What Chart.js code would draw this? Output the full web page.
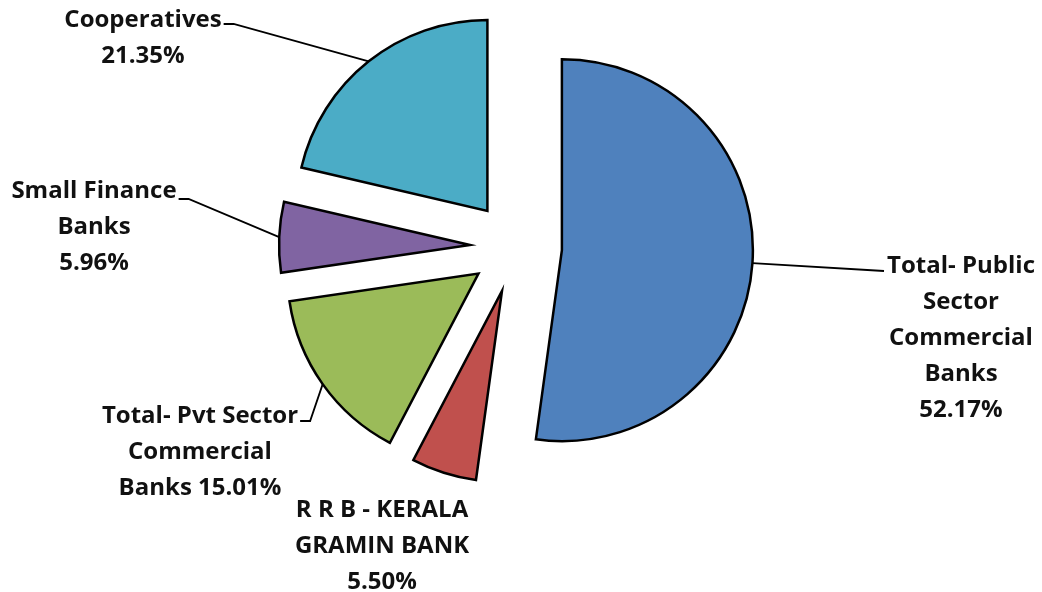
<!DOCTYPE html>
<html>
<head>
<meta charset="utf-8">
<script src="https://cdn.jsdelivr.net/npm/chart.js@4"></script>
<style>
  html, body { margin: 0; padding: 0; background: #fff; }
  #wrap { width: 1042px; height: 592px; position: relative; }
</style>
</head>
<body>
<div id="wrap"><canvas id="c" width="1042" height="592"></canvas></div>
<script>
// ---- data ----
const categories = [
  "Total- Public Sector Commercial Banks",
  "R R B - KERALA GRAMIN BANK",
  "Total- Pvt Sector Commercial Banks",
  "Small Finance Banks",
  "Cooperatives"
];
const shares = [52.17, 5.50, 15.01, 5.96, 21.35];
const labelLines = [
  ["Total- Public", "Sector", "Commercial", "Banks", "52.17%"],
  ["R R B - KERALA", "GRAMIN BANK", "5.50%"],
  ["Total- Pvt Sector", "Commercial", "Banks 15.01%"],
  ["Small Finance", "Banks", "5.96%"],
  ["Cooperatives", "21.35%"]
];
const colors = ["#4F81BD", "#C0504D", "#9BBB59", "#8064A2", "#4BACC6"];

// ---- layout (label placement, not data) ----
const EXPLODE = 46;
const PIE_RADIUS = 191;
const LINE_H = 36;
const FONT = "bold 24px 'Open Sans', 'Liberation Sans', sans-serif";
const labelPos = [
  { cx: 961, y: 273, leader: "toText", end: [884, 271] },
  { cx: 382, y: 517, leader: "none" },
  { cx: 200, y: 423, leader: "elbow", elbowY: 421, dx: 10 },
  { cx: 94,  y: 198, leader: "elbow", elbowY: 199, dx: 10 },
  { cx: 143, y: 27,  leader: "elbow", elbowY: 24, dx: 10 }
];

const explodePlugin = {
  id: "explode",
  afterUpdate(chart) {
    const meta = chart.getDatasetMeta(0);
    meta.data.forEach(arc => {
      const mid = (arc.startAngle + arc.endAngle) / 2;
      arc.x += Math.cos(mid) * EXPLODE;
      arc.y += Math.sin(mid) * EXPLODE;
    });
  }
};

const labelPlugin = {
  id: "sliceLabels",
  afterDraw(chart) {
    const ctx = chart.ctx;
    const meta = chart.getDatasetMeta(0);
    ctx.save();
    ctx.font = FONT;
    ctx.fillStyle = "#111";
    ctx.textAlign = "center";
    ctx.textBaseline = "alphabetic";
    meta.data.forEach((arc, i) => {
      const mid = (arc.startAngle + arc.endAngle) / 2;
      const ax = arc.x + Math.cos(mid) * arc.outerRadius;
      const ay = arc.y + Math.sin(mid) * arc.outerRadius;
      const p = labelPos[i];
      const lines = labelLines[i];
      lines.forEach((t, k) => ctx.fillText(t, p.cx, p.y + k * LINE_H));
      ctx.strokeStyle = "#000";
      ctx.lineWidth = 1.8;
      ctx.beginPath();
      if (p.leader === "elbow") {
        const w = ctx.measureText(lines[0]).width;
        const x0 = p.cx + w / 2 + 2;
        ctx.moveTo(x0, p.elbowY);
        ctx.lineTo(x0 + p.dx, p.elbowY);
        ctx.lineTo(ax, ay);
        ctx.stroke();
      } else if (p.leader === "toText") {
        ctx.moveTo(ax, ay);
        ctx.lineTo(p.end[0], p.end[1]);
        ctx.stroke();
      }
    });
    ctx.restore();
  }
};

new Chart(document.getElementById("c"), {
  type: "pie",
  data: {
    labels: categories,
    datasets: [{
      data: shares,
      backgroundColor: colors,
      borderColor: "#000",
      borderWidth: 2.5,
      borderJoinStyle: "miter",
      radius: PIE_RADIUS
    }]
  },
  options: {
    responsive: false,
    animation: false,
    layout: { padding: { left: 0, right: 10, top: 0, bottom: 98 } },
    plugins: {
      legend: { display: false },
      tooltip: { enabled: false }
    }
  },
  plugins: [explodePlugin, labelPlugin]
});
</script>
</body>
</html>
